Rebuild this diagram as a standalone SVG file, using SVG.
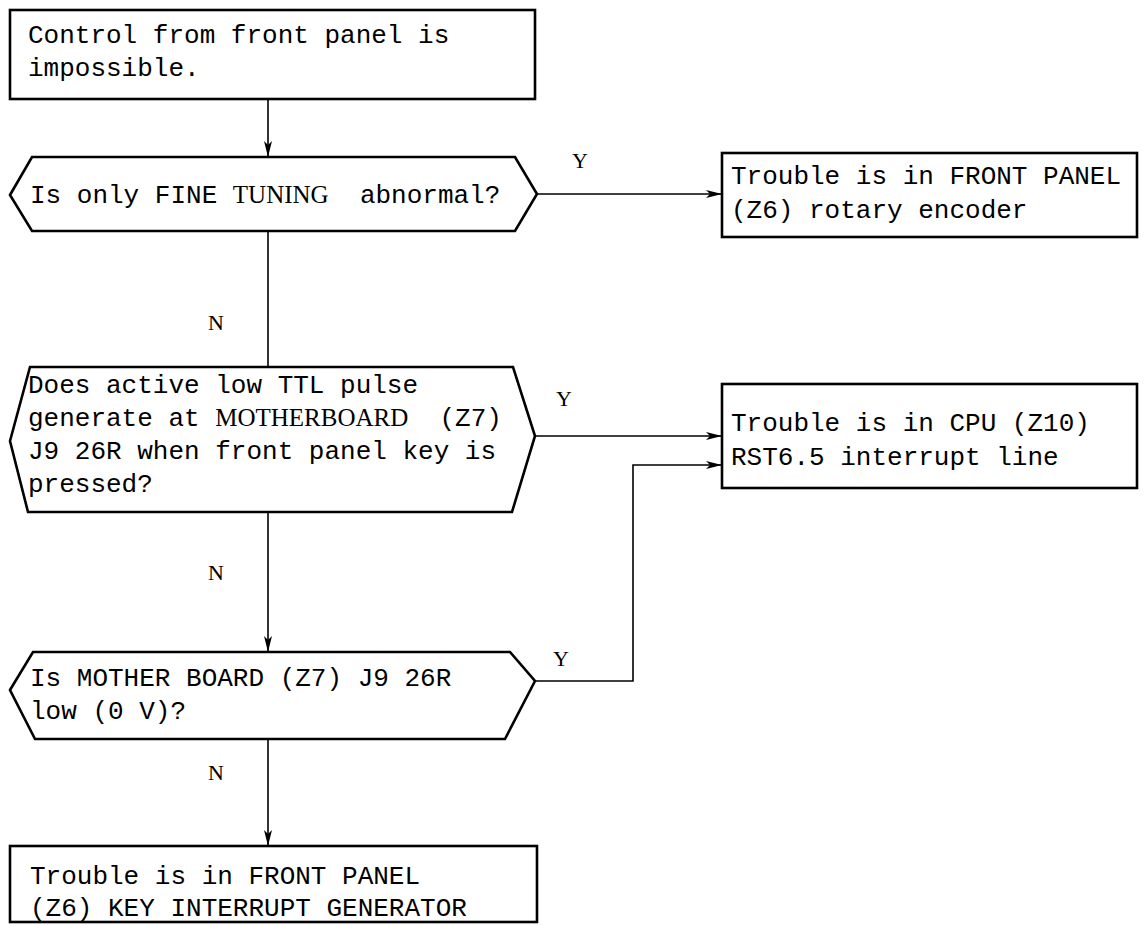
<svg xmlns="http://www.w3.org/2000/svg" width="1145" height="925" viewBox="0 0 1145 925">
<style>
.shape{fill:#fff;stroke:#000;stroke-width:2.6;stroke-linejoin:miter}
.conn{fill:none;stroke:#000;stroke-width:1.6}
.t{font-family:"Liberation Mono","Courier New",monospace;font-size:26px;fill:#000;white-space:pre}
.s{font-family:"Liberation Serif","Times New Roman",serif;font-size:25px}
.lbl{font-family:"Liberation Serif","Times New Roman",serif;font-size:22px;fill:#000}
</style>
<defs>
<marker id="arr" viewBox="0 0 16 8" refX="16" refY="4" markerWidth="16" markerHeight="8" markerUnits="userSpaceOnUse" orient="auto">
<path d="M0,0 L16,4 L0,8 L4,4 z" fill="#000"/>
</marker>
</defs>
<rect width="1145" height="925" fill="#fff"/>
<g id="connectors">
<line class="conn" x1="268" y1="99" x2="268" y2="157" marker-end="url(#arr)"/>
<line class="conn" x1="537" y1="194" x2="722" y2="194" marker-end="url(#arr)"/>
<line class="conn" x1="268" y1="231" x2="268" y2="367"/>
<line class="conn" x1="535" y1="436" x2="722" y2="436" marker-end="url(#arr)"/>
<line class="conn" x1="268" y1="512" x2="268" y2="652" marker-end="url(#arr)"/>
<polyline class="conn" points="535,681 633,681 633,465 722,465" marker-end="url(#arr)"/>
<line class="conn" x1="268" y1="739" x2="268" y2="846" marker-end="url(#arr)"/>
<text class="lbl" x="572" y="168">Y</text>
<text class="lbl" x="208" y="330">N</text>
<text class="lbl" x="556" y="406">Y</text>
<text class="lbl" x="208" y="580">N</text>
<text class="lbl" x="553" y="666">Y</text>
<text class="lbl" x="208" y="780">N</text>
</g>
<g id="start">
<rect class="shape" x="10" y="10" width="525" height="89"/>
<text class="t" x="28" y="43">Control from front panel is</text>
<text class="t" x="28" y="76">impossible.</text>
</g>
<g id="q1">
<polygon class="shape" points="10,195 32,157 515,157 537,194 515,231 32,231"/>
<text class="t" x="30" y="203">Is only FINE <tspan class="s">TUNING</tspan>  abnormal?</text>
</g>
<g id="r1">
<rect class="shape" x="722" y="153" width="415" height="84"/>
<text class="t" x="731" y="184">Trouble is in FRONT PANEL</text>
<text class="t" x="731" y="218">(Z6) rotary encoder</text>
</g>
<g id="q2">
<polygon class="shape" points="10,441 30,367 513,367 535,436 512,512 28,512"/>
<text class="t" x="28" y="393">Does active low TTL pulse</text>
<text class="t" x="28" y="426">generate at <tspan class="s">MOTHERBOARD</tspan>  (Z7)</text>
<text class="t" x="28" y="459">J9 26R when front panel key is</text>
<text class="t" x="28" y="492">pressed?</text>
</g>
<g id="r2">
<rect class="shape" x="722" y="384" width="415" height="104"/>
<text class="t" x="731" y="431">Trouble is in CPU (Z10)</text>
<text class="t" x="731" y="465">RST6.5 interrupt line</text>
</g>
<g id="q3">
<polygon class="shape" points="10,690 33,652 510,652 535,681 505,739 35,739"/>
<text class="t" x="30" y="686">Is MOTHER BOARD (Z7) J9 26R</text>
<text class="t" x="30" y="719">low (0 V)?</text>
</g>
<g id="r3">
<rect class="shape" x="10" y="846" width="527" height="76"/>
<text class="t" x="30" y="884">Trouble is in FRONT PANEL</text>
<text class="t" x="30" y="916">(Z6) KEY INTERRUPT GENERATOR</text>
</g>
</svg>
